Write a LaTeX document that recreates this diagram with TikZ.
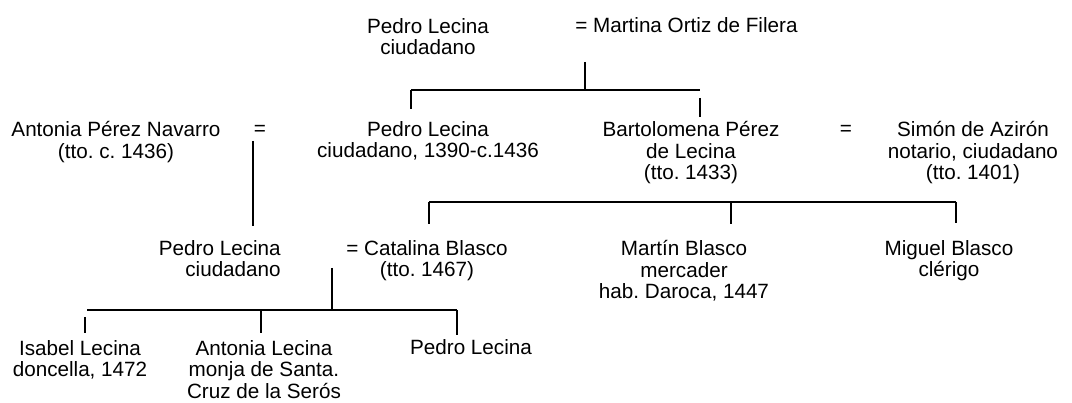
\documentclass[tikz,border=0pt]{standalone}
\usepackage{fontspec}
\setmainfont{Liberation Sans}
\usetikzlibrary{calc}
\tikzset{
    person/.style={inner sep=0pt, align=center, anchor=north},
    single/.style={inner sep=0pt, anchor=base},
    eqsign/.style={single},
    link/.style={line width=1.2pt},
}
\newcommand{\dropline}[3][0mm]{
    \draw[link, shorten >=#1] (#2) -- (#2 |- #3.north);
}
\frenchspacing

\begin{document}
\begin{tikzpicture}[x=0.25mm, y=-0.25mm,
    every node/.style={font=\fontsize{14.7pt}{15.4pt}\selectfont}]
    \useasboundingbox (0,0) rectangle (1072,403);

    \node[person] (pedroA) at (428,18) {Pedro Lecina\\ciudadano};
    \node[single, anchor=base west] (martina) at (575,33) {= Martina Ortiz de Filera};

    \node[person] (antonia) at (116,121) {Antonia Pérez Navarro\\(tto. c. 1436)};
    \node[eqsign] (eqB) at (260,136) {=};
    \node[person] (pedroB) at (428,121) {Pedro Lecina\\ciudadano, 1390-c.1436};
    \node[person] (bartolomena) at (691,121) {Bartolomena Pérez\\de Lecina\\(tto. 1433)};
    \node[eqsign] (eqC) at (846,136) {=};
    \node[person] (simon) at (973,121) {Simón de Azirón\\notario, ciudadano\\(tto. 1401)};

    \node[person, anchor=north east, align=right] (pedroC) at (281,240) {Pedro Lecina\\ciudadano};
    \node[person] (catalina) at (427,240) {= Catalina Blasco\\(tto. 1467)};
    \node[person] (martin) at (684,240) {Martín Blasco\\mercader\\hab. Daroca, 1447};
    \node[person] (miguel) at (949,240) {Miguel Blasco\\clérigo};

    \node[person] (isabel) at (80,340) {Isabel Lecina\\doncella, 1472};
    \node[person] (antoniaL) at (264,340) {Antonia Lecina\\monja de Santa.\\Cruz de la Serós};
    \node[single] (pedroD) at (471,355) {Pedro Lecina};

    % Pedro Lecina = Martina Ortiz de Filera
    \coordinate (wedA) at (585,62);
    \coordinate (barAw) at (411,90);
    \coordinate (barAe) at (700,90);
    \draw[link] (wedA) -- (wedA |- barAw);
    \draw[link] (barAw) -- (barAe);
    \dropline[3mm]{barAw}{pedroB}
    \draw[link, shorten <=2mm, shorten >=1mm] (barAe) -- (barAe |- bartolomena.north);

    % Antonia Perez Navarro = Pedro Lecina
    \coordinate (wedB) at (253,141);
    \dropline[3.5mm]{wedB}{pedroC}

    % Bartolomena = Simon de Aziron
    \coordinate (barBw) at (429,202);
    \coordinate (barBm) at (731,202);
    \coordinate (barBe) at (956,202);
    \draw[link] (barBw) -- (barBe);
    \dropline[4mm]{barBw}{catalina}
    \dropline[4mm]{barBm}{martin}
    \dropline[4.2mm]{barBe}{miguel}

    % Pedro Lecina = Catalina Blasco
    \coordinate (wedC) at (332,268);
    \coordinate (barCw) at (87,310);
    \coordinate (barCm) at (261,310);
    \coordinate (barCe) at (457,310);
    \draw[link] (wedC) -- (wedC |- barCw);
    \draw[link] (barCw) -- (barCe);
    \draw[link, shorten <=1.75mm, shorten >=1.75mm] ([xshift=-0.5mm]barCw) -- ([xshift=-0.5mm]barCw |- isabel.north);
    \dropline[1.75mm]{barCm}{antoniaL}
    \dropline[1.25mm]{barCe}{pedroD}
\end{tikzpicture}
\end{document}
